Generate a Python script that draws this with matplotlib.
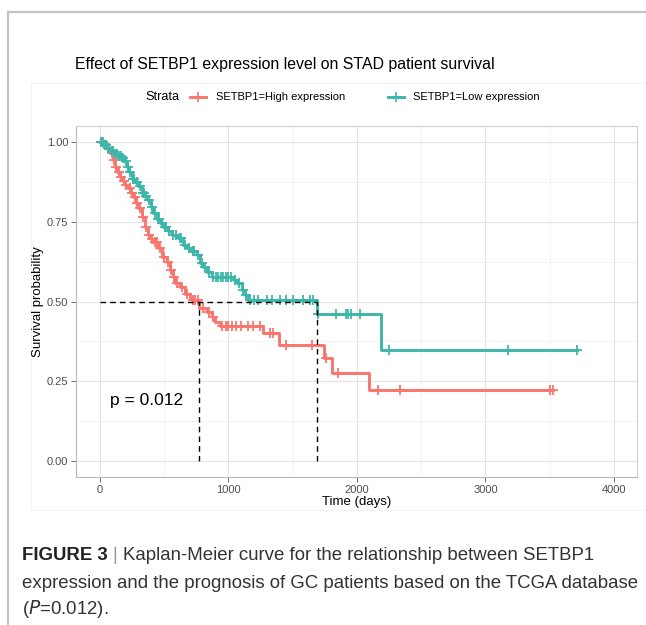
import matplotlib
matplotlib.use("Agg")
import matplotlib.pyplot as plt
from matplotlib.lines import Line2D
from matplotlib.patches import Rectangle
import numpy as np

plt.rcParams['font.family'] = ['Liberation Sans', 'DejaVu Sans']

# KM steps: (time in days, survival after step)
high_t = [0, 30, 52, 78, 100, 117, 135, 156, 175, 195, 220, 240, 259, 280, 298, 324, 350, 376,
          395, 415, 454, 480, 519, 545, 565, 584, 623, 661, 700, 715, 770, 830, 869, 895, 934,
          1271, 1390, 1740, 1805, 2090]
high_s = [1.0, 0.99, 0.98, 0.965, 0.945, 0.923, 0.905, 0.891, 0.878, 0.865, 0.855, 0.84, 0.829,
          0.81, 0.792, 0.766, 0.734, 0.708, 0.697, 0.687, 0.667, 0.64, 0.625, 0.599, 0.578, 0.557,
          0.546, 0.525, 0.51, 0.505, 0.479, 0.468, 0.452, 0.437, 0.423, 0.4, 0.364, 0.324, 0.277,
          0.223]
high_cens = [15, 40, 65, 90, 108, 125, 145, 165, 185, 205, 230, 250, 270, 290, 310, 335, 360, 385,
             405, 430, 445, 465, 500, 530, 555, 575, 600, 640, 680, 720, 740, 760, 800, 850, 880,
             950, 980, 1000, 1030, 1060, 1100, 1150, 1190, 1245, 1320, 1350, 1450, 1650, 1760,
             1855, 2160, 2335, 3505, 3530]

low_t = [0, 25, 50, 78, 110, 140, 169, 190, 208, 228, 246, 272, 298, 324, 350, 376, 398, 415, 441,
         468, 493, 530, 558, 609, 648, 680, 700, 752, 778, 805, 830, 869, 1040, 1064, 1103, 1130,
         1154, 1690, 2187]
low_s = [1.0, 0.99, 0.982, 0.972, 0.963, 0.957, 0.95, 0.94, 0.923, 0.905, 0.883, 0.873, 0.863,
         0.84, 0.83, 0.818, 0.797, 0.777, 0.757, 0.746, 0.735, 0.72, 0.708, 0.698, 0.678, 0.667,
         0.657, 0.646, 0.621, 0.607, 0.594, 0.578, 0.567, 0.557, 0.537, 0.52, 0.505, 0.462, 0.348]
low_cens = [10, 20, 35, 45, 60, 70, 90, 100, 120, 130, 150, 160, 180, 200, 215, 235, 255, 262, 285,
            310, 335, 340, 360, 385, 405, 425, 450, 460, 480, 505, 515, 540, 570, 590, 620, 630,
            660, 690, 720, 735, 760, 790, 815, 845, 880, 900, 920, 940, 960, 980, 1000, 1020, 1050,
            1080, 1115, 1140, 1165, 1200, 1230, 1300, 1340, 1400, 1450, 1500, 1580, 1634, 1660,
            1700, 1837, 1912, 1930, 1951, 2023, 2249, 3175, 3710]

groups = ['SETBP1=High expression', 'SETBP1=Low expression']
colors = ['#F8766D', '#3DB6AA']
p_label = 'p = 0.012'

W, H = 646, 625
fig = plt.figure(figsize=(W / 100, H / 100), dpi=100)


def fx(x):
    return x / W


def fy(y):
    return 1 - y / H


ax = fig.add_axes([fx(76), fy(477), fx(637) - fx(76), fy(126) - fy(477)])

curves = [(high_t, high_s, high_cens), (low_t, low_s, low_cens)]
medians = []
for (t, s, cens), col in zip(curves, colors):
    t = np.array(t, float)
    s = np.array(s, float)
    c = np.array(cens, float)
    t_end = max(t.max(), c.max())
    ax.step(np.append(t, t_end), np.append(s, s[-1]), where='post', color=col, lw=2.1, zorder=3)
    cs = s[np.searchsorted(t, c, side='right') - 1]
    ax.plot(c, cs, ls='none', marker='+', ms=7.5, mew=1.3, color=col, zorder=4)
    medians.append(t[np.argmax(s <= 0.5)])

# median lines
ax.plot([0, max(medians)], [0.5, 0.5], ls=(0, (4, 3)), color='black', lw=1.0, zorder=5)
for m in medians:
    ax.plot([m, m], [0, 0.5], ls=(0, (4, 3)), color='black', lw=1.0, zorder=5)

ax.text(80, 0.19, p_label, fontsize=12.5, ha='left', va='center')

ax.set_xlim(-187, 4180)
ax.set_ylim(-0.05, 1.05)
ax.set_xticks([0, 1000, 2000, 3000, 4000])
ax.set_xticks([500, 1500, 2500, 3500], minor=True)
ax.set_yticks([0, 0.25, 0.5, 0.75, 1.0])
ax.set_yticklabels(['0.00', '0.25', '0.50', '0.75', '1.00'])
ax.set_yticks([0.125, 0.375, 0.625, 0.875], minor=True)
ax.grid(which='major', color='#E4E4E4', lw=0.8)
ax.grid(which='minor', color='#F1F1F1', lw=0.6)
ax.set_axisbelow(True)
ax.tick_params(which='major', labelsize=8, labelcolor='#4D4D4D', color='#555555', length=3.5,
               width=0.6, pad=2)
ax.tick_params(which='minor', length=0)
for side in ['top', 'right']:
    ax.spines[side].set_color('#D0D0D0')
for side in ['left', 'bottom']:
    ax.spines[side].set_color('#B8B8B8')
for sp in ax.spines.values():
    sp.set_linewidth(0.8)
ax.set_xlabel('Time (days)', fontsize=9.5, labelpad=1)
ax.set_ylabel('Survival probability', fontsize=9.5, labelpad=2)

# plot background and outer frame
fig.add_artist(Rectangle((fx(31), fy(510)), 1, fy(83) - fy(510), transform=fig.transFigure,
                         fill=False, edgecolor='#F2F2F2', lw=0.8, zorder=0))
fig.add_artist(Line2D([fx(8), fx(8)], [0, fy(12)], transform=fig.transFigure, color='#C4C4C4', lw=1.6))
fig.add_artist(Line2D([fx(8), 1], [fy(12), fy(12)], transform=fig.transFigure, color='#C4C4C4', lw=1.6))

fig.text(fx(75), fy(64), 'Effect of SETBP1 expression level on STAD patient survival',
         fontsize=11.4, ha='left', va='center')

# legend
fig.text(fx(145), fy(97), 'Strata', fontsize=9.2, ha='left', va='center')
leg_x = [(190, 206, 216), (388, 404, 413)]
for (x1, x2, xt), col, lab in zip(leg_x, colors, groups):
    fig.add_artist(Line2D([fx(x1), fx(x2)], [fy(97), fy(97)], transform=fig.transFigure,
                          color=col, lw=2.1))
    fig.add_artist(Line2D([fx((x1 + x2) / 2)], [fy(97)], transform=fig.transFigure, color=col,
                          marker='+', ms=7, mew=1.2, ls='none'))
    fig.text(fx(xt), fy(97), lab, fontsize=8, ha='left', va='center')

# caption
cap_kw = dict(fontsize=13.45, va='center', ha='left')
t1 = fig.text(fx(22), fy(555), 'FIGURE 3', fontweight='bold', color='#222222', **cap_kw)
fig.canvas.draw()
x_after = t1.get_window_extent().x1
t2 = fig.text(x_after / W + fx(5), fy(555), '|', color='#999999', **cap_kw)
fig.canvas.draw()
x_after = t2.get_window_extent().x1
fig.text(x_after / W + fx(5), fy(555), 'Kaplan-Meier curve for the relationship between SETBP1',
         color='#333333', **cap_kw)
fig.text(fx(22), fy(583), 'expression and the prognosis of GC patients based on the TCGA database',
         color='#333333', **cap_kw)
fig.text(fx(22), fy(609), r'($\it{P}$=0.012).', color='#333333', **cap_kw)

fig.savefig('out.png', dpi=100)
